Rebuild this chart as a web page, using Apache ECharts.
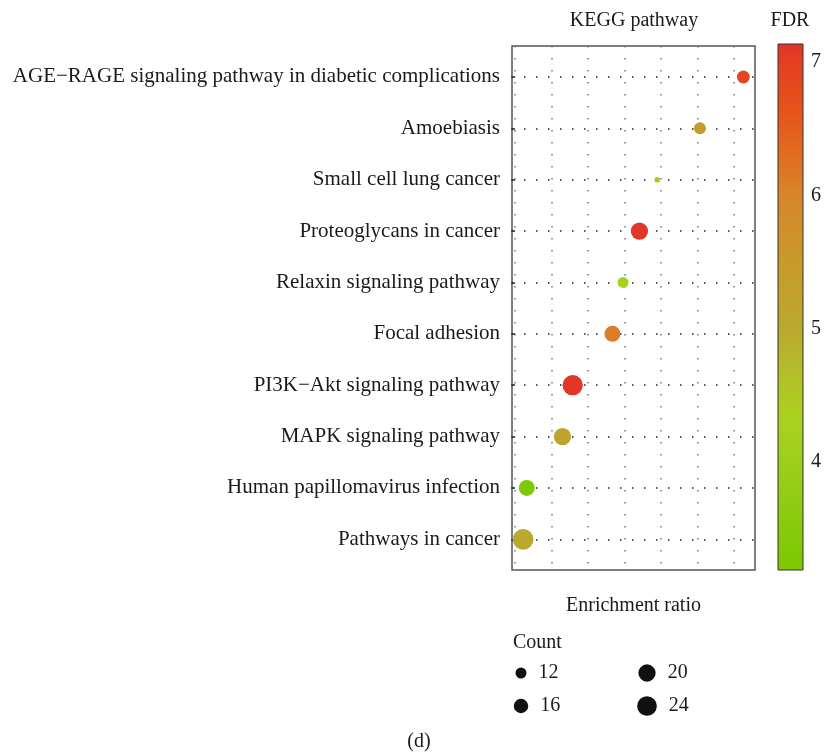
<!DOCTYPE html>
<html>
<head>
<meta charset="utf-8">
<script src="https://cdn.jsdelivr.net/npm/echarts@6/dist/echarts.min.js"></script>
<style>html,body{margin:0;padding:0;background:#fff;}#chart{width:831px;height:752px;}</style>
</head>
<body>
<div id="chart"></div>
<script>
// ---- data (bottom to top) ----
const pathways = [
  'Pathways in cancer',
  'Human papillomavirus infection',
  'MAPK signaling pathway',
  'PI3K\u2212Akt signaling pathway',
  'Focal adhesion',
  'Relaxin signaling pathway',
  'Proteoglycans in cancer',
  'Small cell lung cancer',
  'Amoebiasis',
  'AGE\u2212RAGE signaling pathway in diabetic complications'
];
const enrichment = [0.22, 0.32, 1.30, 1.58, 2.67, 2.96, 3.41, 3.90, 5.07, 6.26];
const counts     = [26, 18, 20, 25, 18, 12, 20, 8, 13, 14];
const fdr        = [5.0, 3.3, 5.2, 7.1, 6.1, 4.3, 7.1, 4.1, 5.4, 6.9];
const xGridTicks = [0, 1, 2, 3, 4, 5, 6];
const fdrTicks   = [4, 5, 6, 7];
const countBreaks = [12, 16, 20, 24];
const fdrMin = 3.19, fdrMax = 7.135;

// colour scale stops (FDR value -> colour)
const colorStops = [
  [3.19, '#7cc800'], [3.6, '#8ccb0e'], [4.0, '#9ccf1a'], [4.35, '#abd21e'],
  [4.65, '#b2bf28'], [5.0, '#b9a92e'], [5.5, '#c99a2a'], [6.0, '#d8852a'],
  [6.3, '#e06d20'], [6.6, '#e5561a'], [7.0, '#e43e22'], [7.135, '#e0342a']
];
function hex2rgb(h){return [parseInt(h.substr(1,2),16),parseInt(h.substr(3,2),16),parseInt(h.substr(5,2),16)];}
function colorFor(v){
  if (v <= colorStops[0][0]) return colorStops[0][1];
  for (let i = 1; i < colorStops.length; i++) {
    if (v <= colorStops[i][0]) {
      const a = colorStops[i-1], b = colorStops[i];
      const t = (v - a[0]) / (b[0] - a[0]);
      const ca = hex2rgb(a[1]), cb = hex2rgb(b[1]);
      const c = ca.map((x, k) => Math.round(x + (cb[k] - x) * t));
      return 'rgb(' + c.join(',') + ')';
    }
  }
  return colorStops[colorStops.length-1][1];
}
function sizeFor(c){ return Math.sqrt(Math.max(4, 121 + 22.27 * (c - 12))); }

const FONT = "'Liberation Serif', 'Times New Roman', serif";
const TXT = '#1a1a1a';

const chart = echarts.init(document.getElementById('chart'));
const mainData = pathways.map((p, i) => ({
  value: [enrichment[i], i, counts[i], fdr[i]],
  itemStyle: { color: colorFor(fdr[i]), opacity: 1 }
}));
const legendData = countBreaks.map((c, i) => [Math.floor(i / 2), i % 2, c]);

chart.setOption({
  animation: false,
  backgroundColor: '#fff',
  grid: [
    { left: 512, top: 46, width: 243, height: 524, show: true, borderColor: '#555', borderWidth: 1.5, backgroundColor: 'transparent' },
    { left: 778, top: 44, width: 25, height: 526, show: false },
    { left: 521, top: 673, width: 126, height: 33, show: false }
  ],
  xAxis: [
    {
      gridIndex: 0, type: 'value', min: -0.085, max: 6.58,
      axisLine: { show: false },
      axisTick: { show: false, customValues: xGridTicks },
      axisLabel: { show: false },
      splitLine: { show: true, lineStyle: { color: '#777', width: 1.5, type: [1.5, 10.5] } },
      name: 'Enrichment ratio', nameLocation: 'middle', nameGap: 26,
      nameTextStyle: { fontFamily: FONT, fontSize: 20, color: TXT }
    },
    { gridIndex: 1, type: 'value', min: 0, max: 1, show: false },
    { gridIndex: 2, type: 'value', min: 0, max: 1, show: false }
  ],
  yAxis: [
    {
      gridIndex: 0, type: 'value', min: -0.597, max: 9.603,
      axisLine: { show: false },
      axisTick: { show: true, length: 4, customValues: pathways.map((p, i) => i), lineStyle: { color: '#333', width: 1.5 } },
      axisLabel: { show: true, customValues: pathways.map((p, i) => i), formatter: v => pathways[Math.round(v)], fontFamily: FONT, fontSize: 21, color: TXT, margin: 12 },
      splitLine: { show: true, lineStyle: { color: '#222', width: 1.5, type: [1.5, 10.5] } }
    },
    {
      gridIndex: 1, type: 'value', min: fdrMin, max: fdrMax, position: 'right',
      axisLine: { show: false },
      axisTick: { show: true, length: 5, customValues: fdrTicks, lineStyle: { color: '#333', width: 1.2 } },
      axisLabel: { show: true, customValues: fdrTicks, fontFamily: FONT, fontSize: 20, color: TXT, margin: 8 },
      splitLine: { show: false }
    },
    { gridIndex: 2, type: 'value', min: 0, max: 1, inverse: true, show: false }
  ],
  series: [
    {
      type: 'scatter', xAxisIndex: 0, yAxisIndex: 0,
      data: mainData,
      symbolSize: v => sizeFor(v[2]),
      itemStyle: { opacity: 1 },
      z: 5
    },
    {
      type: 'custom', xAxisIndex: 1, yAxisIndex: 1,
      data: [[0, fdrMin, 1, fdrMax]],
      renderItem: function (params, api) {
        const p0 = api.coord([api.value(0), api.value(3)]);
        const p1 = api.coord([api.value(2), api.value(1)]);
        const span = fdrMax - fdrMin;
        const stops = colorStops.map(s => ({ offset: (fdrMax - s[0]) / span, color: s[1] }));
        stops.sort((a, b) => a.offset - b.offset);
        return {
          type: 'rect',
          shape: { x: p0[0], y: p0[1], width: p1[0] - p0[0], height: p1[1] - p0[1] },
          style: { fill: new echarts.graphic.LinearGradient(0, 0, 0, 1, stops), stroke: '#333', lineWidth: 1 }
        };
      }
    },
    {
      type: 'scatter', xAxisIndex: 2, yAxisIndex: 2,
      data: legendData,
      symbolSize: v => sizeFor(v[2]),
      itemStyle: { color: '#111', opacity: 1 },
      label: { show: true, position: 'right', distance: 12, formatter: p => String(p.value[2]), fontFamily: FONT, fontSize: 20, color: TXT }
    }
  ],
  graphic: [
    { type: 'text', x: 634, y: 21, style: { text: 'KEGG pathway', font: "20px " + FONT, fill: TXT, textAlign: 'center', textVerticalAlign: 'middle' } },
    { type: 'text', x: 790, y: 21, style: { text: 'FDR', font: "20px " + FONT, fill: TXT, textAlign: 'center', textVerticalAlign: 'middle' } },
    { type: 'text', x: 513, y: 643, style: { text: 'Count', font: "20px " + FONT, fill: TXT, textAlign: 'left', textVerticalAlign: 'middle' } },
    { type: 'text', x: 419, y: 742, style: { text: '(d)', font: "20px " + FONT, fill: TXT, textAlign: 'center', textVerticalAlign: 'middle' } }
  ]
});
</script>
</body>
</html>
